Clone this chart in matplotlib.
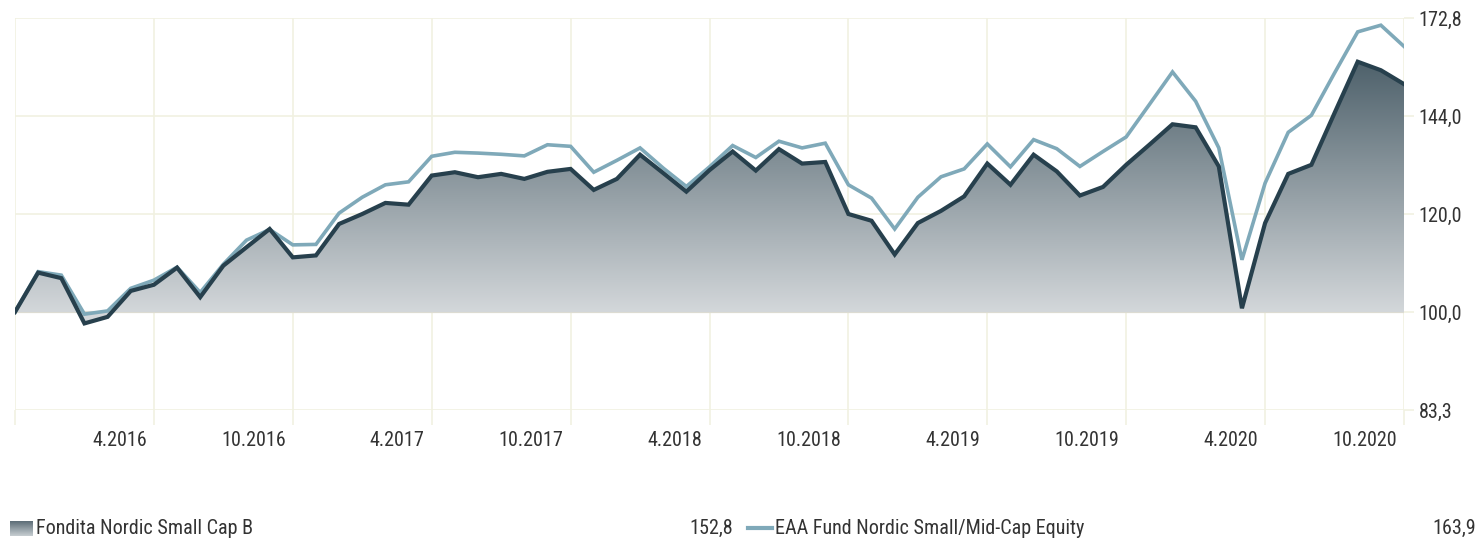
import numpy as np
import matplotlib
matplotlib.use("Agg")
import matplotlib.pyplot as plt
from matplotlib import font_manager as fm
from matplotlib.colors import LinearSegmentedColormap
from matplotlib.lines import Line2D
import matplotlib.transforms as mtransforms
from matplotlib.ticker import NullLocator

# ---------------- data ----------------
fund_name = "Fondita Nordic Small Cap B"
index_name = "EAA Fund Nordic Small/Mid-Cap Equity"
fund_last_label = "152,8"
index_last_label = "163,9"

fund = [100.0, 107.6, 106.5, 97.9, 99.1, 104.0, 105.2, 108.6, 102.8, 109.0,
        112.8, 116.7, 110.7, 111.1, 117.8, 120.0, 122.5, 122.1, 128.9, 129.7,
        128.5, 129.3, 128.1, 129.8, 130.5, 125.5, 128.1, 134.0, 129.5, 125.1,
        130.2, 134.8, 130.1, 135.4, 131.8, 132.2, 120.0, 118.5, 111.3, 118.0,
        120.7, 124.0, 131.8, 126.7, 134.0, 129.9, 124.2, 126.2, 131.5, 136.5,
        141.8, 141.0, 131.1, 100.7, 118.0, 129.3, 131.5, 144.8, 159.3, 156.8,
        152.8]

index = [100.0, 107.8, 107.1, 99.6, 100.2, 104.5, 106.1, 108.7, 103.7, 109.3,
         114.3, 116.6, 113.3, 113.4, 120.2, 123.8, 126.7, 127.4, 133.6, 134.6,
         134.4, 134.1, 133.7, 136.5, 136.1, 129.7, 132.6, 135.7, 130.7, 126.3,
         131.0, 136.3, 133.3, 137.4, 135.7, 136.9, 126.7, 123.6, 116.7, 123.8,
         128.6, 130.5, 136.7, 131.0, 137.8, 135.5, 131.1, 134.8, 138.5, 147.1,
         156.3, 148.0, 135.7, 110.2, 127.1, 139.7, 144.2, 156.0, 168.4, 170.5,
         163.9]

x_tick_pos = [6, 12, 18, 24, 30, 36, 42, 48, 54, 60]
x_tick_labels = ["4.2016", "10.2016", "4.2017", "10.2017", "4.2018",
                 "10.2018", "4.2019", "10.2019", "4.2020", "10.2020"]
y_ticks = [100 / 1.2, 100.0, 120.0, 144.0, 172.8]
y_tick_labels = ["83,3", "100,0", "120,0", "144,0", "172,8"]
base_value = 100.0

# ---------------- fonts ----------------
avail = {f.name for f in fm.fontManager.ttflist}
FONT = "Roboto"
for cand in ["Roboto Condensed", "Liberation Sans Narrow", "Roboto", "Liberation Sans"]:
    if cand in avail:
        FONT = cand
        break
plt.rcParams["font.family"] = [FONT, "DejaVu Sans"]
FS = 14.5

TEXT = "#333333"
GRID = "#f1f1e2"
DARK = "#27404d"
LIGHT = "#7fa9b9"

W, H = 1481, 542
fig = plt.figure(figsize=(W / 100, H / 100), dpi=100)
fig.patch.set_facecolor("white")

L, R, T, B = 15, 1404, 18, 410
ax = fig.add_axes([L / W, 1 - B / H, (R - L) / W, (B - T) / H])
x = np.arange(len(fund))

ax.set_yscale("log")
ax.set_xlim(0, len(fund) - 1)
ax.set_ylim(y_ticks[0], y_ticks[-1])

for s in ax.spines.values():
    s.set_visible(False)

ax.set_xticks([0] + x_tick_pos)
ax.set_xticklabels([])
ax.set_yticks(y_ticks)
ax.set_yticklabels(y_tick_labels)
ax.yaxis.set_minor_locator(NullLocator())
ax.xaxis.set_minor_locator(NullLocator())
ax.yaxis.tick_right()
ax.tick_params(axis="x", direction="out", length=10.8, width=1.2, color=GRID)
ax.tick_params(axis="y", direction="out", length=7.5, width=1.2, color=GRID,
               pad=3, labelsize=FS, labelcolor=TEXT)
ax.grid(True, color=GRID, lw=1.2, zorder=0)
ax.set_axisbelow(True)
ax.axhline(base_value, color="#dcdbd2", lw=1.6, zorder=1)

# gradient fill under the fund line
poly = ax.fill_between(x, fund, base_value, facecolor="none", edgecolor="none", zorder=2)
to_axes = ax.transAxes.inverted()
f100 = to_axes.transform(ax.transData.transform((0, base_value)))[1]
ftop = to_axes.transform(ax.transData.transform((0, max(fund))))[1]
cmap = LinearSegmentedColormap.from_list(
    "g", [(0.0, "#dde0e2"), (f100 / ftop, "#d3d7da"), (1.0, "#4e616b")])
grad = np.linspace(0, 1, 512).reshape(-1, 1)
im = ax.imshow(grad, extent=[0, 1, 0, ftop], transform=ax.transAxes, aspect="auto",
               cmap=cmap, origin="lower", interpolation="bilinear", zorder=2)
im.set_clip_path(poly.get_paths()[0], ax.transData)
ax.set_xlim(0, len(fund) - 1)
ax.set_ylim(y_ticks[0], y_ticks[-1])

ax.plot(x, index, color=LIGHT, lw=2.6, zorder=3, solid_joinstyle="miter")
ax.plot(x, fund, color=DARK, lw=3.0, zorder=4, solid_joinstyle="miter")

# x labels: right-aligned just left of each gridline
blend = mtransforms.blended_transform_factory(ax.transData, ax.transAxes)
off = mtransforms.ScaledTranslation(-7 / 100, -30 / 100, fig.dpi_scale_trans)
for p, lbl in zip(x_tick_pos, x_tick_labels):
    ax.text(p, 0, lbl, transform=blend + off, ha="right", va="center",
            fontsize=FS, color=TEXT)

# legend
ly = 1 - 528 / H
sw = fig.add_axes([10 / W, 1 - 536 / H, 23 / W, 15 / H])
sw.imshow(np.linspace(0, 1, 64).reshape(-1, 1),
          cmap=LinearSegmentedColormap.from_list("s", ["#5d6d77", "#c6cdd1"]),
          aspect="auto", extent=[0, 1, 0, 1], origin="upper")
sw.set_axis_off()
fig.text(36 / W, ly, fund_name, ha="left", va="center", fontsize=FS, color=TEXT)
fig.text(733 / W, ly, fund_last_label, ha="right", va="center", fontsize=FS, color=TEXT)
fig.add_artist(Line2D([748 / W, 772 / W], [ly, ly], color=LIGHT, lw=3, transform=fig.transFigure))
fig.text(775 / W, ly, index_name, ha="left", va="center", fontsize=FS, color=TEXT)
fig.text(1476 / W, ly, index_last_label, ha="right", va="center", fontsize=FS, color=TEXT)

fig.savefig("out.png", dpi=100, facecolor="white")
